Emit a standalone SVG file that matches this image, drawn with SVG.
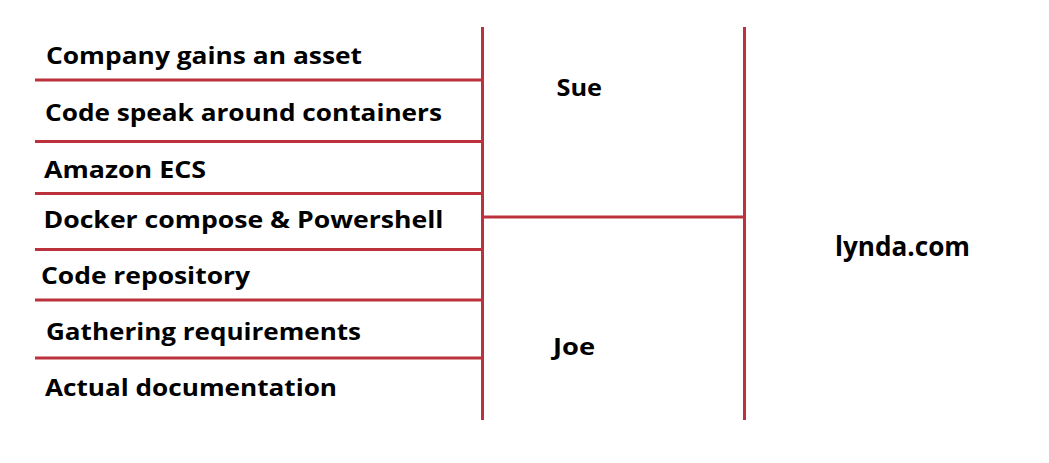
<svg xmlns="http://www.w3.org/2000/svg" width="1049" height="463" viewBox="0 0 1049 463">
<style>
.t{font-family:"Open Sans","Liberation Sans",sans-serif;font-weight:bold;font-size:24px;fill:#000;font-variant-ligatures:none}
.l{stroke:#bb313c;stroke-width:3;fill:none}
</style>
<rect width="1049" height="463" fill="#fff"/>
<g id="connectors">
<line class="l" x1="35" y1="80" x2="483" y2="80"/>
<line class="l" x1="35" y1="141.5" x2="483" y2="141.5"/>
<line class="l" x1="35" y1="193.5" x2="483" y2="193.5"/>
<line class="l" x1="35" y1="249.5" x2="483" y2="249.5"/>
<line class="l" x1="35" y1="300" x2="483" y2="300"/>
<line class="l" x1="35" y1="358" x2="483" y2="358"/>
<line class="l" x1="482.5" y1="27" x2="482.5" y2="420"/>
<line class="l" x1="483" y1="217" x2="744" y2="217"/>
<line class="l" x1="744.5" y1="27" x2="744.5" y2="420"/>
</g>
<g id="item1"><text class="t" x="46" y="63.5" textLength="316" lengthAdjust="spacingAndGlyphs">Company gains an asset</text></g>
<g id="item2"><text class="t" x="45" y="120.5" textLength="397" lengthAdjust="spacingAndGlyphs">Code speak around containers</text></g>
<g id="item3"><text class="t" x="44" y="177.5" textLength="162" lengthAdjust="spacingAndGlyphs">Amazon ECS</text></g>
<g id="item4"><text class="t" x="43.5" y="227.5" textLength="400" lengthAdjust="spacingAndGlyphs">Docker compose &amp; Powershell</text></g>
<g id="item5"><text class="t" x="41" y="283.5" textLength="209" lengthAdjust="spacingAndGlyphs">Code repository</text></g>
<g id="item6"><text class="t" x="46" y="339.5" textLength="315" lengthAdjust="spacingAndGlyphs">Gathering requirements</text></g>
<g id="item7"><text class="t" x="45" y="395.5" textLength="292" lengthAdjust="spacingAndGlyphs">Actual documentation</text></g>
<g id="sue"><text class="t" x="556.5" y="95.5" textLength="45.5" lengthAdjust="spacingAndGlyphs">Sue</text></g>
<g id="joe"><text class="t" x="553" y="354.5" textLength="42" lengthAdjust="spacingAndGlyphs">Joe</text></g>
<g id="lynda"><text class="t" x="835" y="256" textLength="135" lengthAdjust="spacingAndGlyphs" style="font-size:26px">lynda.com</text></g>
</svg>
